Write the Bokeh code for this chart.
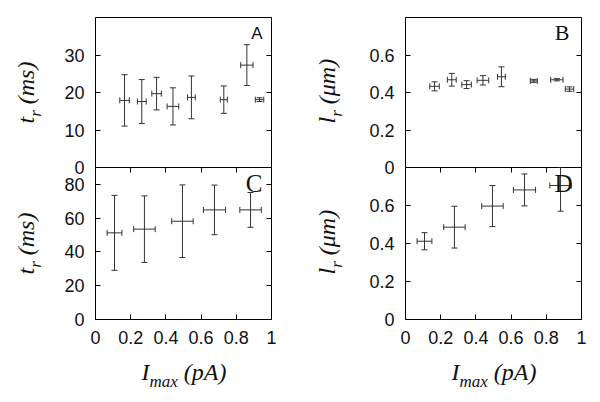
import numpy as np
from math import pi
from bokeh.plotting import figure
from bokeh.models import (ColumnDataSource, Whisker, TeeHead, LinearAxis, FixedTicker,
                          Range1d, Label, CustomJSTickFormatter, Grid)
from bokeh.layouts import column, row
from bokeh.embed import file_html
from bokeh.resources import INLINE

# ---------------- data ----------------
# top row: 8 current bins
imax_top = [0.165, 0.263, 0.347, 0.440, 0.545, 0.729, 0.860, 0.932]
imax_top_err = [0.027, 0.025, 0.027, 0.033, 0.022, 0.020, 0.035, 0.024]
tr_top = [17.9, 17.6, 19.7, 16.3, 18.7, 18.1, 27.3, 18.1]
tr_top_err = [6.85, 5.85, 4.35, 4.95, 5.7, 3.65, 5.45, 0.5]
lr_top = [0.433, 0.468, 0.442, 0.465, 0.484, 0.462, 0.468, 0.418]
lr_top_err = [0.024, 0.034, 0.021, 0.025, 0.053, 0.008, 0.006, 0.012]

# bottom row: 5 current bins
imax_bot = [0.108, 0.278, 0.494, 0.676, 0.881]
imax_bot_err = [0.042, 0.061, 0.061, 0.063, 0.061]
tr_bot = [51.3, 53.5, 58.2, 64.9, 64.9]
tr_bot_err = [22.2, 19.7, 21.5, 14.7, 10.3]
lr_bot = [0.412, 0.486, 0.597, 0.682, 0.705]
lr_bot_err = [0.045, 0.110, 0.108, 0.084, 0.135]

x_ticks = [0, 0.2, 0.4, 0.6, 0.8, 1.0]
tr_ticks_top = [0, 10, 20, 30]
tr_ticks_bot = [0, 20, 40, 60, 80]
lr_ticks = [0, 0.2, 0.4, 0.6]
tr_top_max, tr_bot_max, lr_max = 40, 90, 0.8
panel_letters = ["A", "B", "C", "D"]
y_names = [("t", "r", "(ms)"), ("l", "r", "(\u03bcm)")]
x_name = ("I", "max", "(pA)")

# ---------------- geometry / style ----------------
INK = "#333333"
TXT = "#111111"
SANS = "Liberation Sans"
SERIF = "Liberation Serif"
FW = 176            # frame width
H_TOP = 150         # top frame height
H_BOT = 152         # bottom frame height
OVER = 12           # overlap between rows
TB = 17             # top border
BB = 80             # bottom border (tick labels + axis label)
L_L, L_R = 95, 40   # left column borders
R_L, R_R = 94, 16   # right column borders
W_LEFT = L_L + FW + L_R
W_RIGHT = R_L + FW + R_R
W_ALL = W_LEFT + W_RIGHT
H_ALL = TB + H_TOP + H_BOT + BB


def fmt():
    return CustomJSTickFormatter(code="return String(Math.round(tick*10)/10)")


def make_axis(ticks, labels):
    ax = LinearAxis(ticker=FixedTicker(ticks=ticks, minor_ticks=[]), formatter=fmt())
    ax.major_tick_in = 5
    ax.major_tick_out = 0
    ax.minor_tick_in = 0
    ax.minor_tick_out = 0
    ax.axis_line_color = None
    ax.major_tick_line_color = "black"
    ax.major_tick_line_width = 1
    if labels:
        ax.major_label_text_font = SANS
        ax.major_label_text_font_size = "18px"
        ax.major_label_text_color = TXT
        ax.major_label_standoff = 11
    else:
        ax.major_label_text_font_size = "0px"
        ax.major_label_text_color = None
        ax.major_label_text_alpha = 0
        ax.major_label_standoff = 0
    return ax


def panel(width, height, lb, rb, tb, bb, ymax):
    p = figure(width=width, height=height, x_range=Range1d(0, 1), y_range=Range1d(0, ymax),
               output_backend="svg", toolbar_location=None, title=None,
               x_axis_location=None, y_axis_location=None,
               min_border_left=lb, min_border_right=rb,
               min_border_top=tb, min_border_bottom=bb)
    p.center = [r for r in p.center if not isinstance(r, Grid)]
    p.outline_line_color = "black"
    p.outline_line_width = 1
    p.background_fill_color = "white"
    return p


def errbars(p, x, xe, y, ye, ymax):
    x = np.array(x, dtype=float)
    xe = np.array(xe, dtype=float)
    y = np.array(y, dtype=float)
    ye = np.array(ye, dtype=float)
    src = ColumnDataSource(dict(x=x, y=y, xl=x - xe, xu=x + xe,
                                yl=np.maximum(y - ye, 0), yu=np.minimum(y + ye, ymax)))
    for dim, base, lo, up in (("height", "x", "yl", "yu"), ("width", "y", "xl", "xu")):
        p.add_layout(Whisker(source=src, base=base, lower=lo, upper=up, dimension=dim,
                             line_color=INK, line_width=1,
                             upper_head=TeeHead(size=6, line_color=INK, line_width=1),
                             lower_head=TeeHead(size=6, line_color=INK, line_width=1)))


def text_label(p, x, y, text, size, font=SERIF, style="normal", angle=0.0,
               align="left", baseline="alphabetic"):
    p.add_layout(Label(x=x, y=y, text=text, angle=angle, text_font=font,
                       text_font_style=style, text_font_size=f"{size}px",
                       text_color=TXT, text_align=align, text_baseline=baseline))


# ---------------- panels ----------------
pa = panel(W_LEFT, TB + H_TOP + OVER, L_L, L_R, TB, OVER, tr_top_max)
pb = panel(W_RIGHT, TB + H_TOP + OVER, R_L, R_R, TB, OVER, lr_max)
pc = panel(W_LEFT, H_BOT + BB, L_L, L_R, 0, BB, tr_bot_max)
pd = panel(W_RIGHT, H_BOT + BB, R_L, R_R, 0, BB, lr_max)

for p, ticks in ((pa, tr_ticks_top), (pb, lr_ticks), (pc, tr_ticks_bot), (pd, lr_ticks)):
    p.add_layout(make_axis(ticks, True), "left")
    p.add_layout(make_axis(ticks, False), "right")
for p in (pc, pd):
    p.add_layout(make_axis(x_ticks, True), "below")
    p.add_layout(make_axis(x_ticks, False), "above")
    p.border_fill_color = None
    p.margin = (-OVER, 0, 0, 0)

errbars(pa, imax_top, imax_top_err, tr_top, tr_top_err, tr_top_max)
errbars(pb, imax_top, imax_top_err, lr_top, lr_top_err, lr_max)
errbars(pc, imax_bot, imax_bot_err, tr_bot, tr_bot_err, tr_bot_max)
errbars(pd, imax_bot, imax_bot_err, lr_bot, lr_bot_err, lr_max)

text_label(pa, 0.949, 35.7, panel_letters[0], 17, font=SANS, align="right", baseline="middle")
text_label(pb, 0.932, 0.718, panel_letters[1], 22, align="right", baseline="middle")
text_label(pc, 0.949, 80.3, panel_letters[2], 25, align="right", baseline="middle")
text_label(pd, 0.949, 0.714, panel_letters[3], 25, align="right", baseline="middle")

# ---------------- axis titles (transparent overlay, pixel coordinates) ----------------
ov = figure(width=W_ALL, height=H_ALL, x_range=Range1d(0, W_ALL), y_range=Range1d(0, H_ALL),
            output_backend="svg", toolbar_location=None, title=None,
            x_axis_location=None, y_axis_location=None, min_border=0)
ov.center = [r for r in ov.center if not isinstance(r, Grid)]
ov.outline_line_color = None
ov.background_fill_color = None
ov.border_fill_color = None
ov.margin = (-H_ALL, 0, 0, 0)

frame_left = [L_L + 0.5, W_LEFT + R_L + 0.5]
frame_mid_y = [TB + H_TOP / 2.0, TB + H_TOP + H_BOT / 2.0]   # from top
label_dx = [-61.0, -70.0]
FIX = 0.38  # baseline correction (fraction of font size)

for ci in range(2):
    main, sub, rest = y_names[ci]
    for ri in range(2):
        bx = frame_left[ci] + label_dx[ci]
        yc = frame_mid_y[ri]
        for txt, size, s, shift in ((main, 24, 31.0, 0.0), (sub, 17, 24.3, 7.0), (rest, 24, 11.7, 0.0)):
            text_label(ov, bx + shift - FIX * size, H_ALL - (yc + s), txt, size,
                       style="italic", angle=pi / 2)
    xc = frame_left[ci] + FW / 2.0
    base_y = TB + H_TOP + H_BOT + 61.3
    for txt, size, s, dy in ((x_name[0], 24, -42.5, 0.0), (x_name[1], 17, -34.5, 7.0), (x_name[2], 24, -0.2, 0.0)):
        text_label(ov, xc + s, H_ALL - (base_y + dy - FIX * size), txt, size, style="italic")

layout = column(row(pa, pb), row(pc, pd), ov)
open("out.html", "w").write(file_html(layout, INLINE))
